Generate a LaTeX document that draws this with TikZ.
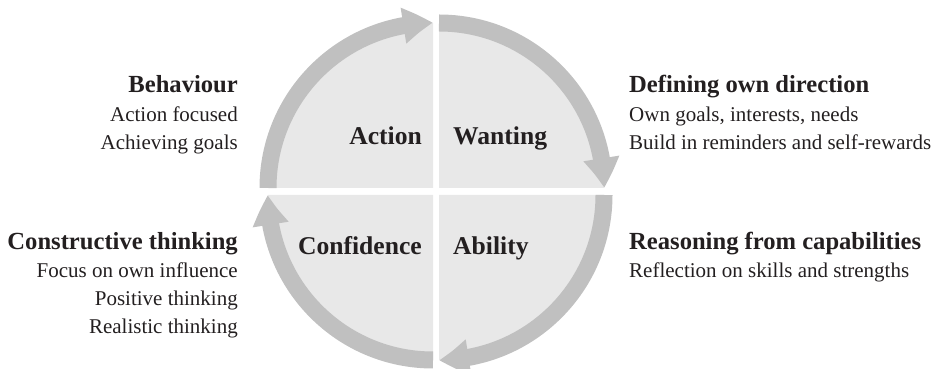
\documentclass[tikz,border=0pt]{standalone}
\usepackage{fontspec}
\setmainfont{Liberation Serif}
\usetikzlibrary{arrows.meta,bending}
\definecolor{quadfill}{HTML}{E8E8E8}
\definecolor{ringgray}{HTML}{C0C0C0}
\definecolor{ink}{HTML}{231F20}

\begin{document}
\begin{tikzpicture}[x=1pt,y=1pt,
  quad/.style={fill=quadfill},
  ring/.style={draw=ringgray,line width=17pt,-{Triangle[length=30pt,width=34pt,bend]}},
  head/.style={font=\fontsize{24.6}{28}\selectfont\bfseries,text=ink,inner sep=0pt},
  body/.style={font=\fontsize{21}{28}\selectfont,text=ink,inner sep=0pt},
  core/.style={font=\fontsize{25.6}{30}\selectfont\bfseries,text=ink,inner sep=0pt}]
\useasboundingbox (0,0) rectangle (939,369);

% quarter discs, each moved away from the centre to leave white gaps
\fill[quad] (433,181) -- ++(180:165) arc[start angle=180,end angle=90,radius=165] -- cycle;
\fill[quad] (439,181) -- ++(90:165) arc[start angle=90,end angle=0,radius=165] -- cycle;
\fill[quad] (439,174) -- ++(0:165) arc[start angle=0,end angle=-90,radius=165] -- cycle;
\fill[quad] (433,174) -- ++(270:165) arc[start angle=270,end angle=180,radius=165] -- cycle;

% clockwise arrows around the rim
\draw[ring] (433,181) ++(180:165) arc[start angle=180,end angle=90,radius=165];
\draw[ring] (439,181) ++(90:165) arc[start angle=90,end angle=0,radius=165];
\draw[ring] (439,174) ++(0:165) arc[start angle=0,end angle=-90,radius=165];
\draw[ring] (433,174) ++(270:165) arc[start angle=270,end angle=180,radius=165];

% quadrant titles
\node[core,anchor=base east] (action) at (422,224) {Action};
\node[core,anchor=base west] (wanting) at (453,224) {Wanting};
\node[core,anchor=base east] (confidence) at (422,114) {Confidence};
\node[core,anchor=base west] (ability) at (453,114) {Ability};

% side descriptions
\node[head,anchor=base east] (behaviour) at (238,276) {Behaviour};
\node[body,anchor=base east] (b1) at (238,247) {Action focused};
\node[body,anchor=base east] (b2) at (238,219) {Achieving goals};

\node[head,anchor=base west] (direction) at (629,276) {Defining own direction};
\node[body,anchor=base west] (d1) at (629,247) {Own goals, interests, needs};
\node[body,anchor=base west] (d2) at (629,219) {Build in reminders and self-rewards};

\node[head,anchor=base east] (constructive) at (238,119) {Constructive thinking};
\node[body,anchor=base east] (c1) at (238,91) {Focus on own influence};
\node[body,anchor=base east] (c2) at (238,63) {Positive thinking};
\node[body,anchor=base east] (c3) at (238,35) {Realistic thinking};

\node[head,anchor=base west] (reasoning) at (629,119) {Reasoning from capabilities};
\node[body,anchor=base west] (r1) at (629,91) {Reflection on skills and strengths};
\end{tikzpicture}
\end{document}
